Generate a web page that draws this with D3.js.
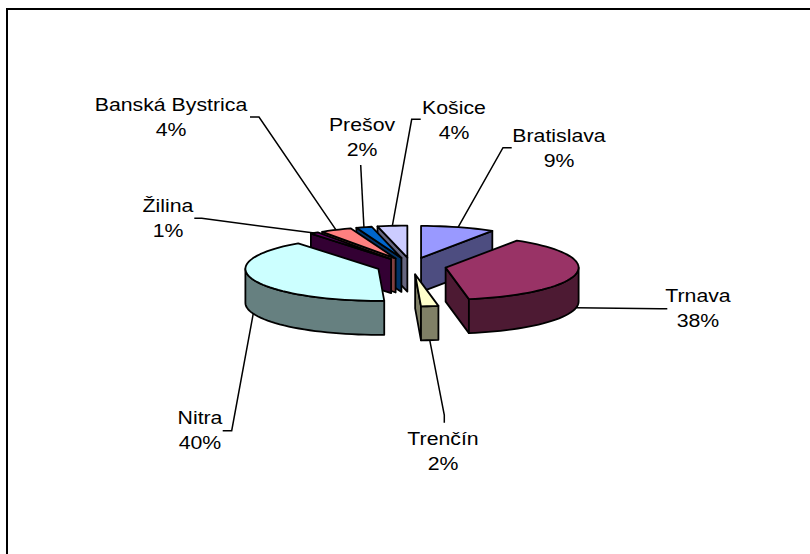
<!DOCTYPE html>
<html>
<head>
<meta charset="utf-8">
<script src="https://cdn.jsdelivr.net/npm/d3@7"></script>
<style>
html, body { margin: 0; padding: 0; background: #fff; overflow: hidden; }
svg { display: block; }
text { font-family: "Liberation Sans", Arial, sans-serif; font-size: 18.5px; fill: #000; }
</style>
</head>
<body>
<div id="chart"></div>
<script>
// values (labels round to the printed percents)
var regions = ["Bratislava", "Trnava", "Trenčín", "Nitra", "Žilina", "Banská Bystrica", "Prešov", "Košice"];
var shares = [9.0, 38.2, 2.1, 40.4, 1.0, 3.8, 1.9, 3.6];
var topColors = ["#9999ff", "#993366", "#ffffcc", "#ccffff", "#660066", "#ff8080", "#0066cc", "#ccccff"];

var width = 810, height = 554;
var cx = 411.3, cy = 266;
var rx = 133, ry = 32, depth = 34;
var explode = 0.263;

// label centre and leader bend for each region, same order as regions
var labelX = [559, 698, 443, 200, 168, 171, 362, 454];
var labelY = [142, 302, 445, 424, 212, 111, 131, 114];
var bendX = [[511.7, 503], [667.3, 660], [444.3, 444.3], [222.7, 231.7], [194.3, 201.7], [250, 259], [360.7], [420.7, 411.7]];
var bendY = [[147.7, 147.7], [308.7, 308.7], [422.7, 415], [430.7, 430.7], [218.3, 218.3], [117, 117], [165], [119.3, 119.3]];

var svg = d3.select("#chart").append("svg")
	.attr("width", width)
	.attr("height", height);

// frame runs off the right and bottom of the window
svg.append("rect")
	.attr("x", 7)
	.attr("y", 9)
	.attr("width", 900)
	.attr("height", 600)
	.attr("fill", "#fff")
	.attr("stroke", "#000")
	.attr("stroke-width", 2);

var pie = d3.pie().sort(null).value(function(d) { return d; });
var arcs = pie(shares);

// squashed circle, r=1 is the rim
var sx = d3.scaleLinear().domain([-1, 1]).range([-rx, rx]);
var sy = d3.scaleLinear().domain([-1, 1]).range([ry, -ry]);

function pt(a, r) {
	return [sx(r * Math.sin(a)), sy(r * Math.cos(a))];
}

function rim(a0, a1, off) {
	var pts = [], n = Math.max(2, Math.ceil((a1 - a0) / 0.05));
	d3.range(n + 1).forEach(function(i) {
		var a = a0 + (a1 - a0) * i / n;
		var p = pt(a, 1);
		pts.push([p[0], p[1] + off]);
	});
	return pts;
}

var line = d3.line();

function mid(d) {
	return (d.startAngle + d.endAngle) / 2;
}

// back slices first
var order = d3.range(arcs.length).sort(function(a, b) {
	return Math.cos(mid(arcs[b])) - Math.cos(mid(arcs[a]));
});

var apexes = arcs.map(function(d) {
	var p = pt(mid(d), explode);
	return [cx + p[0], cy + p[1]];
});

order.forEach(function(i) {
	var d = arcs[i];
	var g = svg.append("g").attr("transform", "translate(" + apexes[i][0] + "," + apexes[i][1] + ")");
	var c = d3.rgb(topColors[i]);
	var dark = d3.rgb(c.r / 2, c.g / 2, c.b / 2);

	function wall(pts) {
		g.append("path")
			.attr("d", line(pts) + "Z")
			.attr("fill", dark)
			.attr("stroke", "#000")
			.attr("stroke-width", 1.8)
			.attr("stroke-linejoin", "round");
	}

	// cut faces that look towards the viewer
	if (Math.cos(d.startAngle - Math.PI / 2) < 0) {
		var s = pt(d.startAngle, 1);
		wall([[0, 0], s, [s[0], s[1] + depth], [0, depth]]);
	}
	if (Math.cos(d.endAngle + Math.PI / 2) < 0) {
		var e = pt(d.endAngle, 1);
		wall([[0, 0], e, [e[0], e[1] + depth], [0, depth]]);
	}

	// outer wall, only the part on the front half
	var a0 = Math.max(d.startAngle, Math.PI / 2), a1 = Math.min(d.endAngle, Math.PI * 1.5);
	if (a1 > a0) {
		wall(rim(a0, a1, 0).concat(rim(a0, a1, depth).reverse()));
	}

	g.append("path")
		.attr("d", line([[0, 0]].concat(rim(d.startAngle, d.endAngle, 0))) + "Z")
		.attr("fill", topColors[i])
		.attr("stroke", "#000")
		.attr("stroke-width", 1.8)
		.attr("stroke-linejoin", "round");
});

// leaders and labels
var pct = d3.format(".0f");
regions.forEach(function(name, i) {
	var a = mid(arcs[i]);
	var p = pt(a, 1);
	var front = Math.cos(a) < 0 ? depth : 0;
	var pts = bendX[i].map(function(x, k) { return [x, bendY[i][k]]; });
	pts.push([apexes[i][0] + p[0], apexes[i][1] + p[1] + front]);

	svg.append("path")
		.attr("d", line(pts))
		.attr("fill", "none")
		.attr("stroke", "#000")
		.attr("stroke-width", 1.5);

	// the original type is stretched sideways
	var t = svg.append("text")
		.attr("text-anchor", "middle")
		.attr("transform", "translate(" + labelX[i] + "," + labelY[i] + ") scale(1.15,1)");
	t.append("tspan").attr("x", 0).text(name);
	t.append("tspan").attr("x", 0).attr("dy", 25).text(pct(shares[i]) + "%");
});
</script>
</body>
</html>
